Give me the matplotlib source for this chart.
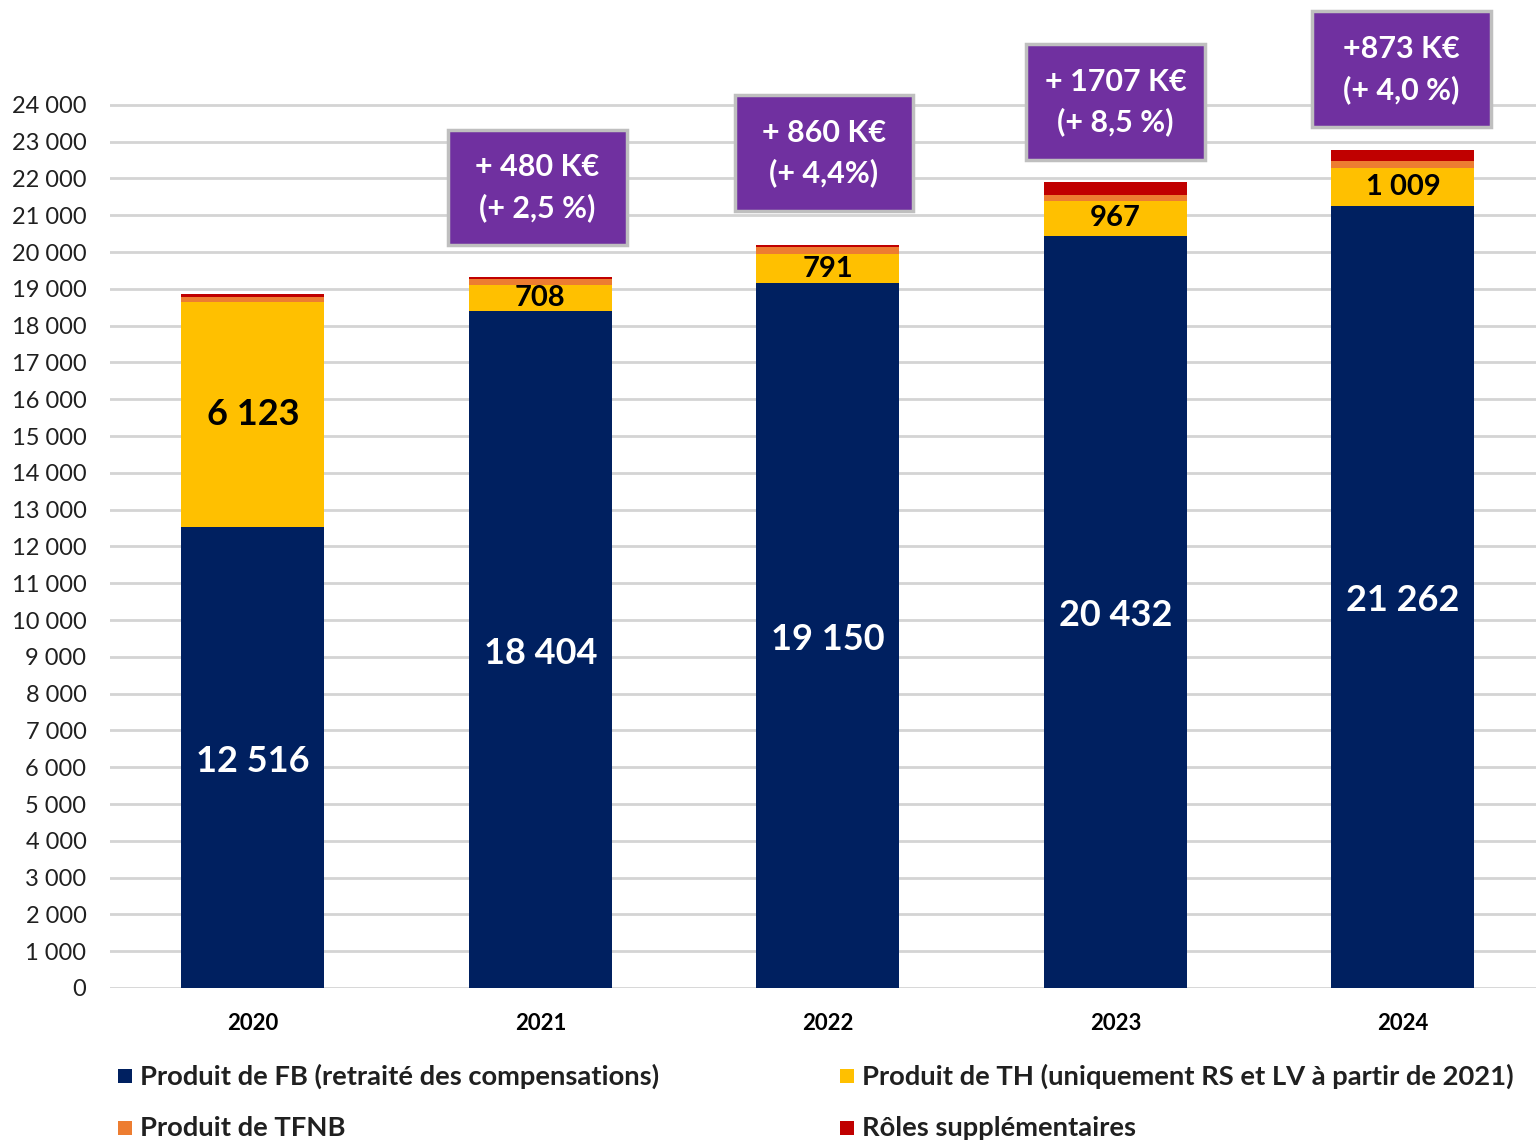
import matplotlib
matplotlib.use("Agg")
import matplotlib.pyplot as plt
from matplotlib.patches import Rectangle

plt.rcParams["font.family"] = ["Lato", "DejaVu Sans"]

# ── data (K€) ──────────────────────────────────────────────
years = ["2020", "2021", "2022", "2023", "2024"]
fb = [12516, 18404, 19150, 20432, 21262]
th = [6123, 708, 791, 967, 1009]
tfnb = [150, 145, 185, 163, 200]
roles = [60, 70, 65, 335, 300]
growth_labels = ["", "+ 480 K€\n(+ 2,5 %)", "+ 860 K€\n(+ 4,4%)",
                 "+ 1707 K€\n(+ 8,5 %)", "+873 K€\n(+ 4,0 %)"]
series_names = ["Produit de FB (retraité des compensations)",
                "Produit de TH (uniquement RS et LV à partir de 2021)",
                "Produit de TFNB",
                "Rôles supplémentaires"]

colours = ["#002060", "#FFC000", "#ED7D31", "#C00000"]
PURPLE = "#7030A0"

fig = plt.figure(figsize=(15.36, 11.42), dpi=100)
ax = fig.add_axes([110 / 1536, 1 - 988 / 1142, 1 - 110 / 1536, 988 / 1142])

x = list(range(len(years)))
width = 0.497
bottom = [0] * len(years)
for vals, col in zip([fb, th, tfnb, roles], colours):
    ax.bar(x, vals, width, bottom=bottom, color=col, zorder=3)
    bottom = [b + v for b, v in zip(bottom, vals)]
totals = bottom

# segment labels
for i in x:
    ax.text(i, fb[i] / 2 - 100, f"{fb[i]:,}".replace(",", " "), ha="center",
            va="center", color="white", fontsize=26, fontweight="bold", zorder=4)
    ax.text(i, fb[i] + th[i] / 2, f"{th[i]:,}".replace(",", " "), ha="center",
            va="center", color="black", fontsize=26 if th[i] > 2000 else 21,
            fontweight="bold", zorder=4)

# growth boxes
box_w, box_h = 0.62, 3150
gaps = [0, 850, 920, 600, 620]
shifts = [0, -0.01, -0.014, 0, -0.005]
for i in x[1:]:
    y0 = totals[i] + gaps[i]
    cx = i + shifts[i]
    ax.add_patch(Rectangle((cx - box_w / 2, y0), box_w, box_h,
                           facecolor=PURPLE, edgecolor="#BFBFBF", lw=2.5,
                           zorder=5, clip_on=False))
    ax.text(cx, y0 + box_h / 2, growth_labels[i], ha="center", va="center",
            color="white", fontsize=22, fontweight="bold", linespacing=1.5,
            zorder=6)

# axes styling
ax.set_xlim(-0.497, 4.463)
ax.set_ylim(0, 26848)
ticks = list(range(0, 24001, 1000))
ax.set_yticks(ticks)
ax.set_yticklabels([f"{t:,}".replace(",", " ") for t in ticks], fontsize=17,
                   color="#202020")
ax.set_xticks(x)
ax.set_xticklabels(years, fontsize=16, fontweight="bold")
ax.tick_params(axis="y", length=0, pad=17)
ax.tick_params(axis="x", length=0, pad=18)
for t in ticks:
    ax.axhline(t, color="#D4D4D4", lw=2, zorder=1)
for s in ax.spines.values():
    s.set_visible(False)

# legend (manual)
legend_pos = [(118, 1076), (840, 1076), (118, 1128), (840, 1128)]
for (px, py), name, col in zip(legend_pos, series_names, colours):
    fig.patches.append(Rectangle((px / 1536, 1 - (py + 7) / 1142), 14 / 1536, 14 / 1142,
                                 transform=fig.transFigure, facecolor=col,
                                 edgecolor="none"))
    fig.text((px + 22) / 1536, 1 - py / 1142, name, ha="left", va="center",
             fontsize=19.7, fontweight="bold", color="#202020")

fig.savefig("out.png", dpi=100)
